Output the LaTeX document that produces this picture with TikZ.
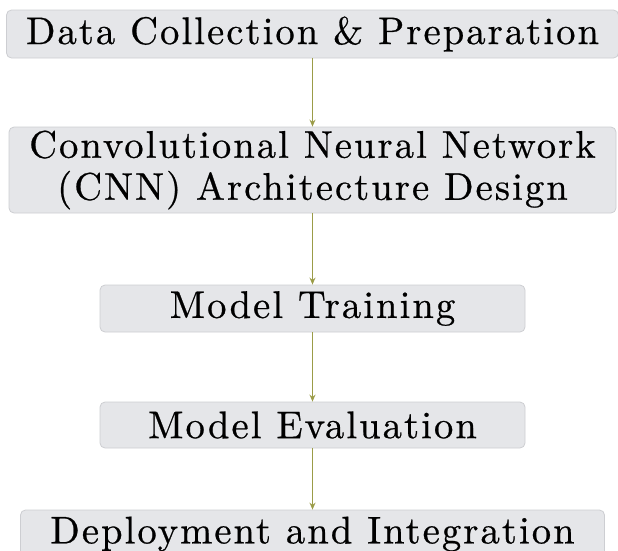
\documentclass[tikz,border=0pt]{standalone}
\usepackage{fontspec}
\usepackage{xcolor}
\usetikzlibrary{positioning,arrows.meta}
\newfontfamily\stagefont{lmroman10-regular.otf}[LetterSpace=5.5, FakeBold=0.6]
\definecolor{boxgray}{RGB}{229,230,233}
\definecolor{boxedge}{RGB}{205,206,210}
\definecolor{flowolive}{RGB}{155,156,72}

\begin{document}
\begin{tikzpicture}[x=1pt, y=-1pt,
    stage/.style = {fill=boxgray, draw=boxedge, line width=0.8pt, rounded corners=5pt,
                    align=center, inner sep=0pt,
                    font=\stagefont\fontsize{38.5}{42}\selectfont},
    flow/.style = {draw=flowolive, line width=1.2pt, -{Stealth[length=7pt,width=6pt]}}]
    \clip (0,0) rectangle (618,550);
    \useasboundingbox (0,0) rectangle (618,550);

    % one stage per step, stacked top to bottom
    \node[stage, minimum width=612pt, minimum height=48pt] (data) at (312.5,34) {Data Collection \& Preparation};
    \node[stage, minimum width=607pt, minimum height=86pt] (cnn) at (312.5,170) {Convolutional Neural Network\\(CNN) Architecture Design};
    \node[stage, minimum width=425pt, minimum height=47pt] (train) at (312.5,308.5) {Model Training};
    \node[stage, minimum width=425pt, minimum height=46pt] (eval) at (312.5,425) {Model Evaluation};
    \node[stage, minimum width=584pt, minimum height=48pt] (deploy) at (312.5,534) {Deployment and Integration};

    \draw[flow] (data) -- (cnn);
    \draw[flow] (cnn) -- (train);
    \draw[flow] (train) -- (eval);
    \draw[flow] (eval) -- (deploy);
\end{tikzpicture}
\end{document}
